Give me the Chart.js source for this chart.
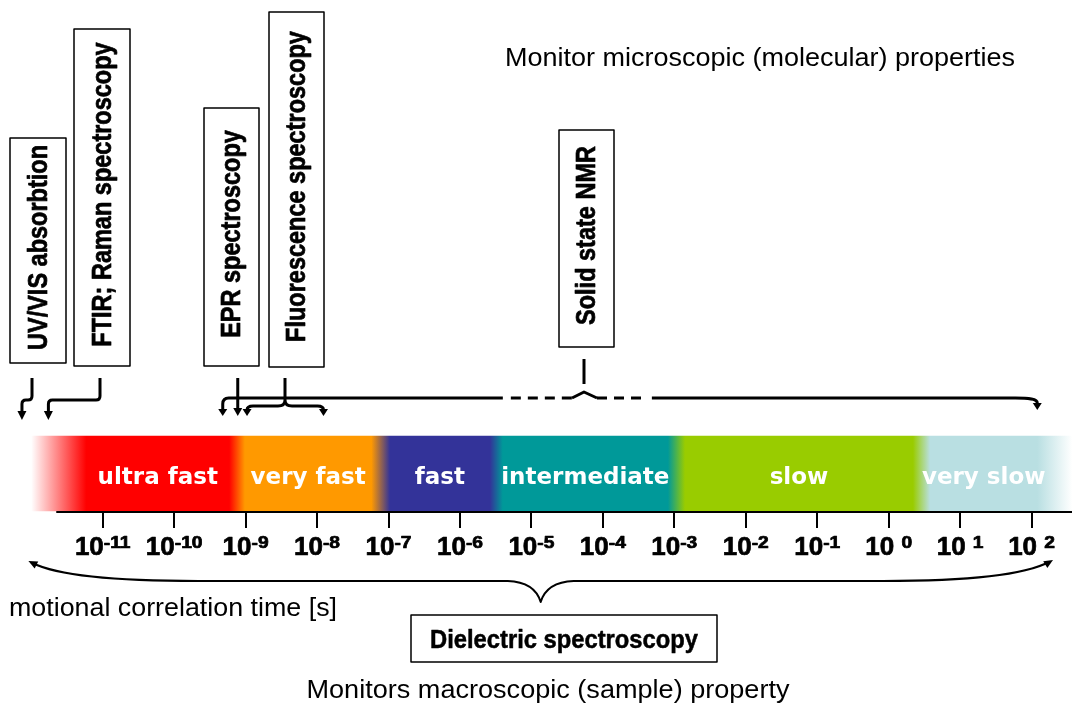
<!DOCTYPE html>
<html>
<head>
<meta charset="utf-8">
<script src="https://cdn.jsdelivr.net/npm/chart.js@4.4.1/dist/chart.umd.min.js"></script>
<style>
  html, body { margin: 0; padding: 0; background: #fff; }
  #wrap { width: 1072px; height: 707px; }
</style>
</head>
<body>
<div id="wrap"><canvas id="chart"></canvas></div>
<script>
// all time values are log10 of the correlation time in seconds
const tickExps = [-11, -10, -9, -8, -7, -6, -5, -4, -3, -2, -1, 0, 1, 2];

const bandNames = ['ultra fast', 'very fast', 'fast', 'intermediate', 'slow', 'very slow'];
const bandFrom = [-11.23, -9.01, -6.98, -5.40, -2.85, 0.58];
const bandTo = [-9.23, -7.24, -5.58, -3.09, 0.34, 2.08];
const bandColors = ['#ff0000', '#ff9900', '#333399', '#009999', '#99cc00', '#b9dfe2'];
const bandEdge = [-12.0, 2.57];

const techNames = ['UV/VIS absorbtion', 'FTIR; Raman spectroscopy', 'EPR spectroscopy',
                   'Fluorescence spectroscopy', 'Solid state NMR'];
const techFrom = [-12.13, -11.76, -9.11, -8.98, -9.32];
const techTo = [-12.13, -11.76, -9.11, -7.91, 2.08];
const nmrUncertain = [-5.40, -3.37];
const dielectricRange = [-12.04, 2.30];

// page layout (y values are pixels, the y scale runs 0..707 top-down)
const layout = {
    axisStart: -11.65,
    axisY: 512,
    tickLen: 16,
    bandMid: 473.5,
    boxes: [
        { x1: 10, x2: 66, y1: 138, y2: 363 },
        { x1: 74, x2: 130, y1: 29, y2: 366 },
        { x1: 204, x2: 259, y1: 108, y2: 366 },
        { x1: 269, x2: 324, y1: 12, y2: 367 },
        { x1: 559, x2: 614, y1: 130, y2: 347 }
    ],
    stems: [32, 100, null, 285, 584]
};

const sansBold = '"Liberation Sans", Arial, sans-serif';

function fitText(ctx, txt, cx, y, font, width, heavy) {
    ctx.save();
    ctx.font = font;
    const w = ctx.measureText(txt).width;
    ctx.translate(cx, y);
    ctx.scale(width / w, 1);
    ctx.textAlign = 'center';
    ctx.textBaseline = 'alphabetic';
    ctx.fillText(txt, 0, 0);
    if (heavy) {
        ctx.lineWidth = heavy;
        ctx.strokeText(txt, 0, 0);
    }
    ctx.restore();
}

function head(ctx, x, y, ang, len, w) {
    ctx.save();
    ctx.translate(x, y);
    ctx.rotate(ang);
    ctx.beginPath();
    ctx.moveTo(0, 0);
    ctx.lineTo(-len, -w / 2);
    ctx.lineTo(-len, w / 2);
    ctx.closePath();
    ctx.fill();
    ctx.restore();
}

const diagram = {
    id: 'diagram',
    afterDatasetsDraw(chart) {
        const ctx = chart.ctx;
        const xs = chart.scales.x, ys = chart.scales.y;
        const X = v => xs.getPixelForValue(v);
        const Y = v => ys.getPixelForValue(v);
        const down = Math.PI / 2;

        ctx.save();
        ctx.fillStyle = '#000';
        ctx.strokeStyle = '#000';
        ctx.lineCap = 'butt';
        ctx.lineJoin = 'round';

        // band names
        ctx.fillStyle = '#fff';
        ctx.font = 'bold 23px "DejaVu Sans", Verdana, sans-serif';
        ctx.textAlign = 'center';
        bandNames.forEach((n, i) => {
            ctx.fillText(n, X((bandFrom[i] + bandTo[i]) / 2), Y(484));
        });
        ctx.fillStyle = '#000';

        // axis line and tick marks
        ctx.lineWidth = 2;
        ctx.beginPath();
        ctx.moveTo(X(layout.axisStart), Y(layout.axisY));
        ctx.lineTo(X(xs.max), Y(layout.axisY));
        tickExps.forEach(e => {
            ctx.moveTo(Math.round(X(e)), Y(layout.axisY));
            ctx.lineTo(Math.round(X(e)), Y(layout.axisY + layout.tickLen));
        });
        ctx.stroke();

        // tick labels 10^n
        ctx.lineWidth = 0.7;
        tickExps.forEach(e => {
            const base = e >= 0 ? '10 ' : '10';
            const sup = String(e);
            ctx.font = 'bold 26px ' + sansBold;
            const wb = ctx.measureText(base).width;
            ctx.font = 'bold 16px ' + sansBold;
            const ws = ctx.measureText(sup).width * 1.2;
            const x0 = X(e) - (wb + ws) / 2;
            ctx.textAlign = 'left';
            ctx.font = 'bold 26px ' + sansBold;
            ctx.fillText(base, x0, Y(555));
            ctx.strokeText(base, x0, Y(555));
            ctx.save();
            ctx.translate(x0 + wb, Y(548));
            ctx.scale(1.2, 1);
            ctx.font = 'bold 16px ' + sansBold;
            ctx.fillText(sup, 0, 0);
            ctx.strokeText(sup, 0, 0);
            ctx.restore();
        });

        // technique boxes with rotated names
        techNames.forEach((n, i) => {
            const b = layout.boxes[i];
            ctx.lineWidth = 1.5;
            ctx.strokeRect(b.x1, Y(b.y1), b.x2 - b.x1, Y(b.y2) - Y(b.y1));
            ctx.save();
            ctx.translate((b.x1 + b.x2) / 2 + 1, Y((b.y1 + b.y2) / 2 - 3));
            ctx.rotate(-Math.PI / 2);
            ctx.scale(1, 1.18);
            ctx.font = 'bold 23.5px ' + sansBold;
            ctx.textAlign = 'center';
            ctx.textBaseline = 'middle';
            ctx.fillText(n, 0, 0);
            ctx.lineWidth = 0.6;
            ctx.strokeText(n, 0, 0);
            ctx.restore();
        });

        // arrows from the boxes to the time axis
        ctx.lineWidth = 3;
        // UV/VIS and FTIR: stem, step left, down
        [0, 1].forEach(i => {
            const s = layout.stems[i], t = X(techFrom[i]);
            ctx.beginPath();
            ctx.moveTo(s, Y(378));
            ctx.lineTo(s, Y(396));
            ctx.quadraticCurveTo(s, Y(400), s - 4, Y(400));
            ctx.lineTo(t + 4, Y(400));
            ctx.quadraticCurveTo(t, Y(400), t, Y(404));
            ctx.lineTo(t, Y(413));
            ctx.stroke();
            head(ctx, t, Y(420), down, 9, 9);
        });
        // EPR
        {
            const t = X(techFrom[2]);
            ctx.beginPath();
            ctx.moveTo(t, Y(378));
            ctx.lineTo(t, Y(409));
            ctx.stroke();
            head(ctx, t, Y(416), down, 8, 9);
        }
        // Fluorescence: bracket over its range
        {
            const a = X(techFrom[3]), b = X(techTo[3]), s = layout.stems[3];
            ctx.beginPath();
            ctx.moveTo(s, Y(378));
            ctx.lineTo(s, Y(400));
            ctx.moveTo(a, Y(410));
            ctx.quadraticCurveTo(a, Y(406), a + 6, Y(406));
            ctx.lineTo(s - 7, Y(406));
            ctx.quadraticCurveTo(s, Y(406), s, Y(400));
            ctx.quadraticCurveTo(s, Y(406), s + 7, Y(406));
            ctx.lineTo(b - 6, Y(406));
            ctx.quadraticCurveTo(b, Y(406), b, Y(410));
            ctx.stroke();
            head(ctx, a, Y(416), down, 7, 9);
            head(ctx, b, Y(416), down, 7, 9);
        }
        // Solid state NMR: long line, uncertain part dashed
        {
            const a = X(techFrom[4]), b = X(techTo[4]), s = layout.stems[4];
            const u0 = X(nmrUncertain[0]), u1 = X(nmrUncertain[1]);
            const ly = Y(398);
            ctx.beginPath();
            ctx.moveTo(s, Y(359));
            ctx.lineTo(s, Y(384));
            ctx.stroke();
            ctx.beginPath();
            ctx.moveTo(a, Y(410));
            ctx.lineTo(a, Y(404));
            ctx.quadraticCurveTo(a, ly, a + 6, ly);
            ctx.lineTo(u0, ly);
            ctx.stroke();
            head(ctx, a, Y(416), down, 7, 9);
            ctx.setLineDash([10, 7]);
            ctx.beginPath();
            ctx.moveTo(u0 + 8, ly);
            ctx.lineTo(s - 12, ly);
            ctx.moveTo(s + 13, ly);
            ctx.lineTo(u1, ly);
            ctx.stroke();
            ctx.setLineDash([]);
            ctx.beginPath();
            ctx.moveTo(s - 12, ly);
            ctx.lineTo(s, Y(392));
            ctx.lineTo(s + 13, ly);
            ctx.stroke();
            ctx.beginPath();
            ctx.moveTo(u1 + 4, ly);
            ctx.lineTo(b - 22, ly);
            ctx.bezierCurveTo(b - 8, ly, b, Y(399), b, Y(403));
            ctx.stroke();
            head(ctx, b, Y(410), down, 7, 9);
        }

        // dielectric spectroscopy brace below the axis
        {
            const L = X(dielectricRange[0]), R = X(dielectricRange[1]), C = (L + R) / 2;
            ctx.lineWidth = 2;
            ctx.beginPath();
            ctx.moveTo(L + 4, Y(563));
            ctx.quadraticCurveTo(L + 40, Y(581), L + 170, Y(581));
            ctx.lineTo(C - 33, Y(581));
            ctx.quadraticCurveTo(C - 6, Y(582), C, Y(602));
            ctx.quadraticCurveTo(C + 6, Y(582), C + 33, Y(581));
            ctx.lineTo(R - 170, Y(581));
            ctx.quadraticCurveTo(R - 40, Y(581), R - 4, Y(562));
            ctx.stroke();
            head(ctx, L, Y(561), Math.atan2(-5, -10), 9, 8);
            head(ctx, R, Y(560), Math.atan2(-6, 10), 9, 8);
            ctx.lineWidth = 1.5;
            ctx.strokeRect(411, Y(615), 306, Y(662) - Y(615));
        }

        // free texts
        fitText(ctx, 'Monitor microscopic (molecular) properties', 760, Y(66), '25px ' + sansBold, 510);
        fitText(ctx, 'motional correlation time [s]', 173, Y(616), '25px ' + sansBold, 328);
        fitText(ctx, 'Dielectric spectroscopy', 564, Y(648), 'bold 25px ' + sansBold, 268, 0.5);
        fitText(ctx, 'Monitors macroscopic (sample) property', 548, Y(698), '25px ' + sansBold, 483);

        ctx.restore();
    }
};

function bandGradient(c) {
    const chart = c.chart;
    const xs = chart.scales.x;
    if (!chart.chartArea || !xs) return bandColors[0];
    const L = xs.getPixelForValue(bandEdge[0]), R = xs.getPixelForValue(bandEdge[1]);
    const pos = v => Math.min(1, Math.max(0, (xs.getPixelForValue(v) - L) / (R - L)));
    const g = chart.ctx.createLinearGradient(L, 0, R, 0);
    g.addColorStop(0, 'rgba(255,255,255,1)');
    bandColors.forEach((col, i) => {
        g.addColorStop(pos(bandFrom[i]), col);
        g.addColorStop(pos(bandTo[i]), col);
    });
    g.addColorStop(1, 'rgba(255,255,255,1)');
    return g;
}

new Chart(document.getElementById('chart'), {
    type: 'bar',
    data: {
        datasets: [{
            label: 'time scale',
            data: [{ y: layout.bandMid, x: [bandEdge[0], bandEdge[1]] }],
            backgroundColor: bandGradient,
            borderWidth: 0,
            barThickness: 75
        }]
    },
    options: {
        indexAxis: 'y',
        responsive: true,
        maintainAspectRatio: false,
        animation: false,
        layout: { padding: 0 },
        plugins: { legend: { display: false }, tooltip: { enabled: false } },
        scales: {
            x: {
                type: 'linear',
                min: -12.4374,
                max: 2.566,
                offset: false,
                display: false
            },
            y: {
                type: 'linear',
                min: 0,
                max: 707,
                reverse: true,
                offset: false,
                display: false
            }
        }
    },
    plugins: [diagram]
});
</script>
</body>
</html>
